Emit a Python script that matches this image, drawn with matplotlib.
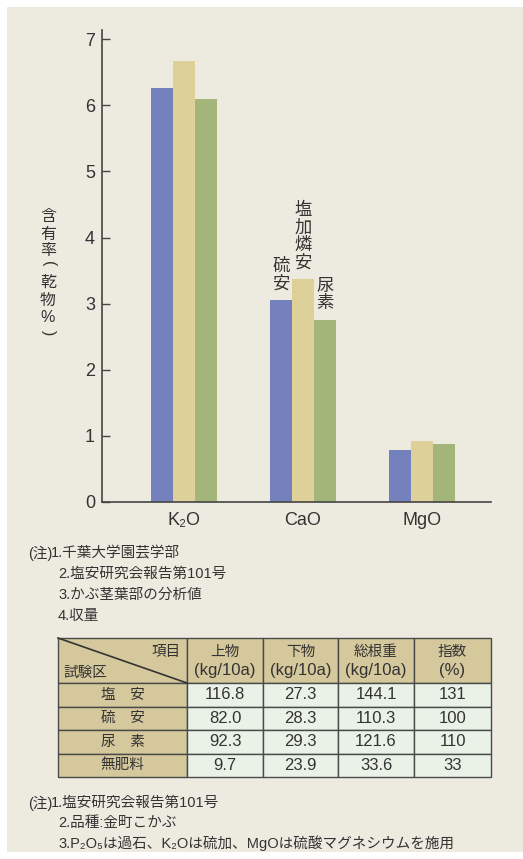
import matplotlib
matplotlib.use('Agg')
import matplotlib.pyplot as plt
import numpy as np
from matplotlib.patches import Rectangle

plt.rcParams['font.family'] = ['Liberation Sans', 'Noto Sans CJK JP', 'DejaVu Sans']

W, H = 523, 859
def fx(px):
    return px / W
def fy(py):
    return 1 - py / H

# chart data (含有率, 乾物%)
nutrients = ['K₂O', 'CaO', 'MgO']
ryuan = [6.26, 3.05, 0.79]        # 硫安
enka_rinan = [6.67, 3.37, 0.93]   # 塩加燐安
nyouso = [6.10, 2.75, 0.87]       # 尿素

# table data
plots = ['塩　安', '硫　安', '尿　素', '無肥料']
head_top = ['上物', '下物', '総根重', '指数']
head_unit = ['(kg/10a)', '(kg/10a)', '(kg/10a)', '(%)']
joubutsu = [116.8, 82.0, 92.3, 9.7]
kabutsu = [27.3, 28.3, 29.3, 23.9]
soukon = [144.1, 110.3, 121.6, 33.6]
shisu = [131, 100, 110, 33]

notes1 = ['1.千葉大学園芸学部', '2.塩安研究会報告第101号', '3.かぶ茎葉部の分析値', '4.収量']
notes2 = ['1.塩安研究会報告第101号', '2.品種:金町こかぶ', '3.P₂O₅は過石、K₂Oは硫加、MgOは硫酸マグネシウムを施用']

bg = '#EDEBE0'
txt = '#333333'
c_blue, c_tan, c_green = '#7481BD', '#DDD098', '#A3B578'

fig = plt.figure(figsize=(W / 100, H / 100), dpi=100, facecolor='white')
fig.add_artist(Rectangle((fx(7), fy(852)), 1, (852 - 7) / H, transform=fig.transFigure,
                         facecolor=bg, edgecolor='none', zorder=-10))

# ---- bar chart
ax = fig.add_axes([fx(102), fy(502), fx(491) - fx(102), (502 - 30) / H])
ax.patch.set_alpha(0)
x = np.arange(len(nutrients))
w = 0.186
ax.bar(x - w, ryuan, w, color=c_blue)
ax.bar(x, enka_rinan, w, color=c_tan)
ax.bar(x + w, nyouso, w, color=c_green)
ax.set_xlim(-0.69, 2.58)
ax.set_ylim(0, 7.14)
ax.set_yticks(range(8))
ax.set_xticks(x)
ax.set_xticklabels(nutrients)
for s in ['top', 'right']:
    ax.spines[s].set_visible(False)
for s in ['left', 'bottom']:
    ax.spines[s].set_color('#444444')
    ax.spines[s].set_linewidth(1.2)
ax.tick_params(axis='y', direction='in', length=6, width=1, color='#444444',
               labelsize=13, labelcolor=txt, pad=5)
ax.tick_params(axis='x', length=0, labelsize=13, labelcolor=txt, pad=7)

# series labels on CaO bars
ax.text(x[1] - w, ryuan[1] + 0.12, '硫\n安', ha='center', va='bottom', fontsize=12.5,
        color=txt, linespacing=0.95, family='Noto Sans CJK JP')
ax.text(x[1], enka_rinan[1] + 0.12, '塩\n加\n燐\n安', ha='center', va='bottom', fontsize=12.5,
        color=txt, linespacing=0.95, family='Noto Sans CJK JP')
ax.text(x[1] + w, nyouso[1] + 0.12, '尿\n素', ha='center', va='bottom', fontsize=12.5,
        color=txt, linespacing=0.95, family='Noto Sans CJK JP')

# vertical y label, one character at a time (parentheses turned for vertical writing)
ylab_chars = ['含', '有', '率', '(', '乾', '物', '%', ')']
ylab_y = [216, 234, 251, 264, 282, 300, 317, 333]
for ch, py in zip(ylab_chars, ylab_y):
    rot = -90 if ch in '()' else 0
    fig.text(fx(48), fy(py), ch, ha='center', va='center', fontsize=11.5, color=txt,
             rotation=rot, rotation_mode='anchor',
             family=['Noto Sans CJK JP'] if ch not in '()%' else ['Liberation Sans'])

# ---- notes 1
nfs = 10.5
fig.text(fx(28), fy(553), '(注)', ha='left', va='center', fontsize=nfs, color=txt)
fig.text(fx(51), fy(553), notes1[0], ha='left', va='center', fontsize=nfs, color=txt)
for i, line in enumerate(notes1[1:]):
    fig.text(fx(58), fy(574 + 21 * i), line, ha='left', va='center', fontsize=nfs, color=txt)

# ---- table
tab = fig.add_axes([fx(58), fy(777), fx(491) - fx(58), (777 - 638) / H])
tab.set_xlim(58, 491)
tab.set_ylim(777, 638)
tab.axis('off')
cells = [[''] * 5]
for i in range(len(plots)):
    cells.append([plots[i], f'{joubutsu[i]:.1f}', f'{kabutsu[i]:.1f}',
                  f'{soukon[i]:.1f}', f'{shisu[i]}'])
col_w = np.array([129, 76, 75, 76, 77]) / 433
tbl = tab.table(cellText=cells, cellLoc='center', bbox=[0, 0, 1, 1], colWidths=list(col_w))
tbl.auto_set_font_size(False)
tbl.set_fontsize(12)
for (r, c), cell in tbl.get_celld().items():
    cell.set_edgecolor('#4a4a4a')
    cell.set_linewidth(1.0)
    cell.set_height(45 if r == 0 else 23.5)
    cell.set_facecolor('#D5C89C' if (r == 0 or c == 0) else '#EAF2E8')
    t = cell.get_text()
    t.set_color(txt)
    if c == 0:
        t.set_fontfamily('Noto Sans CJK JP')
        t.set_fontsize(10.5)

col_edges = [58, 187, 263, 338, 414, 491]
for j in range(4):
    cx = (col_edges[j + 1] + col_edges[j + 2]) / 2
    tab.text(cx, 652, head_top[j], ha='center', va='center', fontsize=10.5, color=txt,
             family='Noto Sans CJK JP')
    tab.text(cx, 670, head_unit[j], ha='center', va='center', fontsize=12, color=txt)
tab.plot([58, 187], [638, 683], color='#333333', lw=1.2, clip_on=False)
tab.text(181, 652, '項目', ha='right', va='center', fontsize=10.5, color=txt, family='Noto Sans CJK JP')
tab.text(63, 673, '試験区', ha='left', va='center', fontsize=10.5, color=txt, family='Noto Sans CJK JP')

# ---- notes 2
fig.text(fx(28), fy(803), '(注)', ha='left', va='center', fontsize=nfs, color=txt)
fig.text(fx(51), fy(803), notes2[0], ha='left', va='center', fontsize=nfs, color=txt)
for i, line in enumerate(notes2[1:]):
    fig.text(fx(58), fy(823 + 20 * i), line, ha='left', va='center', fontsize=nfs, color=txt)

fig.savefig('out.png', dpi=100, facecolor=fig.get_facecolor())
